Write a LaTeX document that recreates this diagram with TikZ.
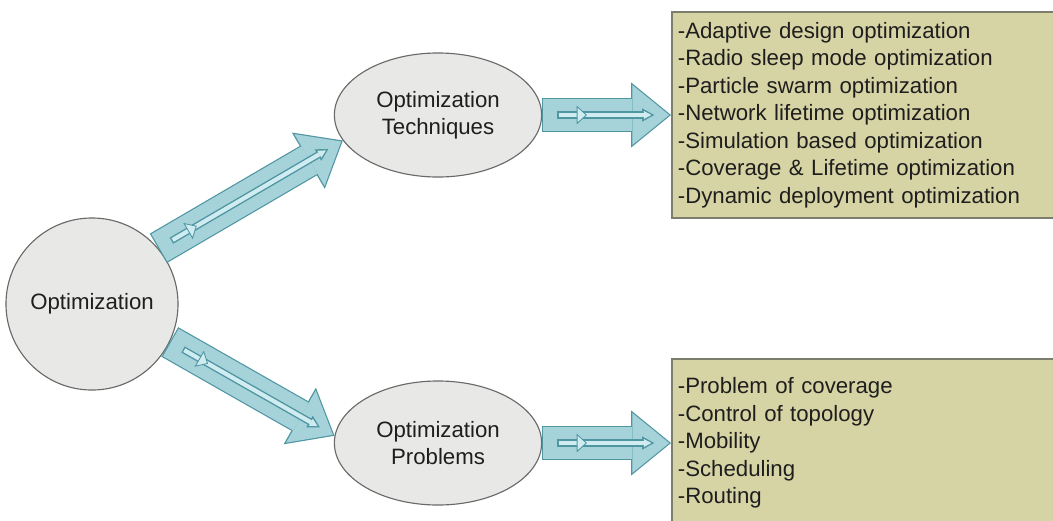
\documentclass[tikz,border=0pt]{standalone}
\usepackage{fontspec}
\setmainfont{Liberation Sans}
\usepackage{xcolor}
\usetikzlibrary{positioning,shapes.geometric,arrows.meta}

\definecolor{nodefill}{RGB}{232,232,230}
\definecolor{nodeline}{RGB}{105,105,105}
\definecolor{listfill}{RGB}{214,212,164}
\definecolor{listline}{RGB}{125,125,110}
\definecolor{arrowfill}{RGB}{166,210,218}
\definecolor{arrowline}{RGB}{78,150,162}
\definecolor{innerfill}{RGB}{208,236,240}
\definecolor{textcol}{RGB}{30,30,30}

\begin{document}
\begin{tikzpicture}
		[x=0.025cm, y=-0.025cm, font=\fontsize{15.8}{19.5}\selectfont, text=textcol,
		root/.style={circle,draw=nodeline,fill=nodefill,line width=0.8pt,inner sep=0pt, minimum size=4.3cm},
		branch/.style={ellipse,draw=nodeline,fill=nodefill,line width=0.8pt,inner sep=0pt, minimum width=5.18cm, minimum height=3.1cm, align=center},
		listbox/.style={rectangle,draw=listline,fill=listfill,line width=1.2pt,inner xsep=0.15cm, inner ysep=0pt, text width=9.7cm, align=left},
		bigarrow/.style={draw=arrowfill,line width=0.79cm,shorten <=0.03cm,shorten >=0.047cm,
			-{Triangle[length=0.92cm,width=1.5cm,line width=0pt]},
			preaction={draw=arrowline,line width=0.85cm,shorten <=0pt,shorten >=0pt,
			-{Triangle[length=1cm,width=1.63cm,line width=0pt]}}},
		smallarrow/.style={draw=innerfill,line width=3pt,shorten <=0.415cm,shorten >=0.49cm,
			-{Triangle[length=0.19cm,width=0.2cm,line width=0pt]},
			preaction={draw=arrowline,line width=5pt,shorten <=0.38cm,shorten >=0.42cm,
			-{Triangle[length=0.3cm,width=0.33cm,line width=0pt]}}},
		pointer/.style={isosceles triangle,isosceles triangle apex angle=85,draw=arrowline,fill=innerfill,line width=0.6pt,inner sep=0pt, minimum height=0.23cm, sloped}]
		\useasboundingbox (0,0) rectangle (1053,520);
		\clip (0,0) rectangle (1053,520);

		\node [root] (opt) at (92,304) {Optimization};
		\node [branch] (tech) at (438,115) {Optimization\\Techniques};
		\node [branch] (prob) at (438,443) {Optimization\\Problems};

		\node [listbox, minimum height=5.15cm] (techlist) [right=3.22cm of tech]
			{-Adaptive design optimization\\-Radio sleep mode optimization\\-Particle swarm optimization\\-Network lifetime optimization\\-Simulation based optimization\\-Coverage \& Lifetime optimization\\-Dynamic deployment optimization};
		\node [listbox, minimum height=4.2cm] (problist) [right=3.22cm of prob]
			{-Problem of coverage\\-Control of topology\\-Mobility\\-Scheduling\\-Routing};

		\draw [bigarrow] (opt.40) -- (tech.195);
		\draw [smallarrow] (opt.40) -- node [pointer, pos=0.18]{} (tech.195);
		\draw [bigarrow] (opt.-26) -- (prob.176);
		\draw [smallarrow] (opt.-26) -- node [pointer, pos=0.2]{} (prob.176);
		\draw [bigarrow] (tech) -- (techlist);
		\draw [smallarrow] (tech.east) -- node [pointer, pos=0.3]{} (techlist.west);
		\draw [bigarrow] (prob) -- (problist);
		\draw [smallarrow] (prob.east) -- node [pointer, pos=0.3]{} (problist.west);

	\end{tikzpicture}
\end{document}
